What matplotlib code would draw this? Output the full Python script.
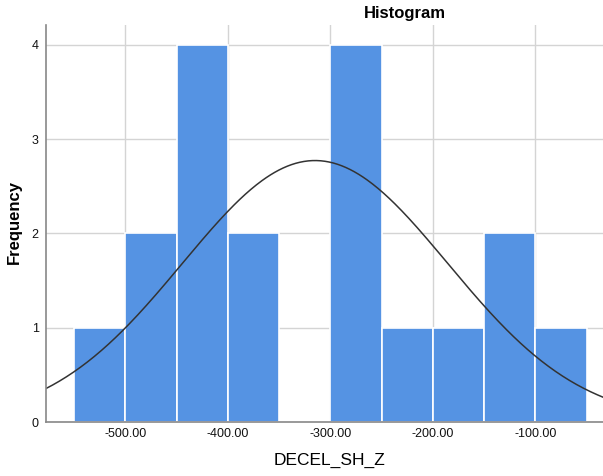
import numpy as np
import matplotlib
matplotlib.use('Agg')
import matplotlib.pyplot as plt

plt.rcParams['font.family'] = ['Liberation Sans', 'DejaVu Sans']

# bin edges and counts
bin_edges = [-550, -500, -450, -400, -350, -300, -250, -200, -150, -100, -50]
counts = [1, 2, 4, 2, 0, 4, 1, 1, 2, 1]
xtick_vals = [-500, -400, -300, -200, -100]
xtick_labels = ['-500.00', '-400.00', '-300.00', '-200.00', '-100.00']
ytick_vals = [0, 1, 2, 3, 4]

# normal curve fitted to the data
mean = -315.0
std = 129.5
n = sum(counts)
bin_width = 50

fig = plt.figure(figsize=(6.03, 4.76), dpi=100)
ax = fig.add_axes([0.0755, 0.1134, 0.9245, 0.8341])

ax.set_axisbelow(True)
ax.grid(True, color='#d4d4d4', linewidth=1)
ax.hist(bin_edges[:-1], bins=bin_edges, weights=counts,
        color='#5593e3', edgecolor='white', linewidth=1.2)

xs = np.linspace(-578, -34, 400)
ys = n * bin_width / (std * np.sqrt(2 * np.pi)) * np.exp(-0.5 * ((xs - mean) / std) ** 2)
ax.plot(xs, ys, color='#333333', linewidth=1.1)

ax.set_xlim(-578, -34)
ax.set_ylim(0, 4.21)
ax.set_xticks(xtick_vals)
ax.set_xticklabels(xtick_labels)
ax.set_yticks(ytick_vals)
ax.tick_params(length=0, labelsize=9, colors='#111111')
ax.tick_params(axis='x', pad=4)
ax.tick_params(axis='y', pad=5)

for side in ['top', 'right']:
    ax.spines[side].set_visible(False)
for side in ['left', 'bottom']:
    ax.spines[side].set_color('#888888')
    ax.spines[side].set_linewidth(1.2)

fig.text(0.547, 0.033, 'DECEL_SH_Z', fontsize=12.5, ha='center', va='center')
fig.text(0.024, 0.534, 'Frequency', fontsize=12, fontweight='bold',
         rotation=90, ha='center', va='center')
fig.text(0.672, 0.972, 'Histogram', fontsize=12, fontweight='bold',
         ha='center', va='center')

fig.savefig('out.png', dpi=100)
